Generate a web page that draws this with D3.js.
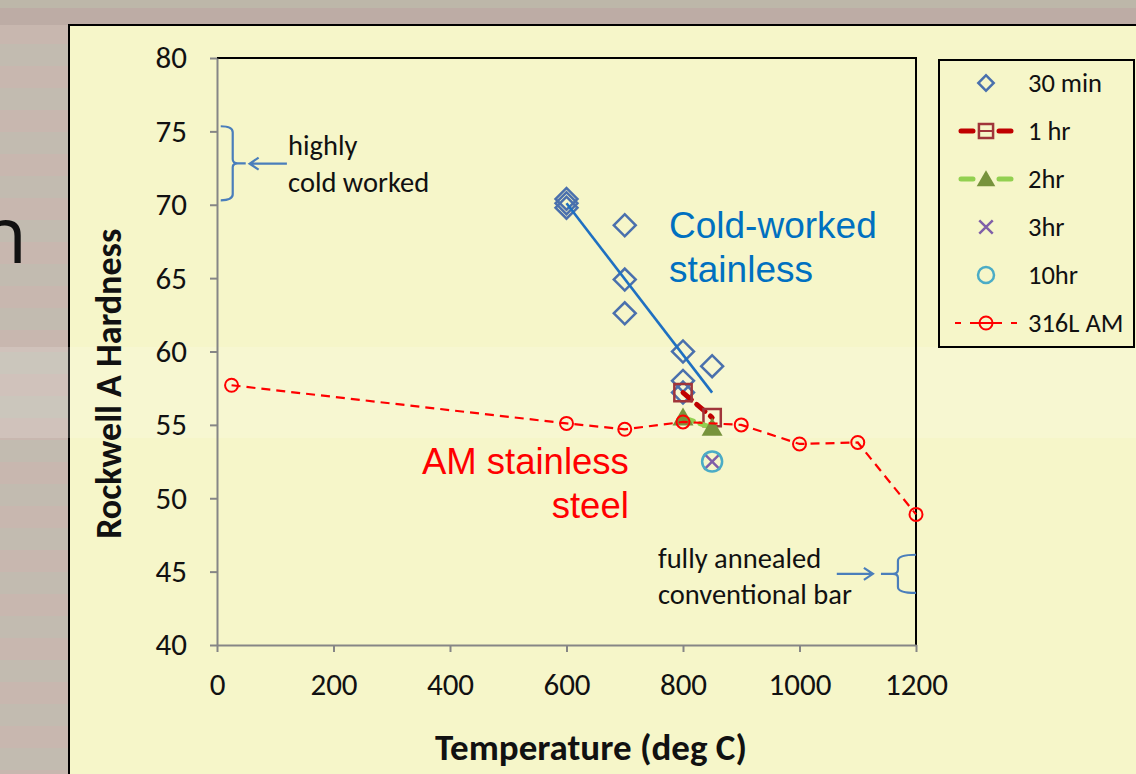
<!DOCTYPE html>
<html lang="en">
<head>
<meta charset="utf-8">
<script src="https://d3js.org/d3.v7.min.js"></script>
<style>
body { margin: 0; overflow: hidden; background: #c1b8ad; }
svg { display: block; font-family: Carlito, Calibri, Lato, sans-serif; }
</style>
</head>
<body>
<svg width="1136" height="774"></svg>
<script>

// hardness (Rockwell A) vs anneal temperature
var min30Temp = [600, 600, 600, 700, 700, 700, 800, 800, 800, 850];
var min30Hard = [70.4, 70.1, 69.8, 68.6, 64.9, 62.6, 60.0, 58.0, 57.2, 59.0];
var hr1Temp = [800, 850];
var hr1Hard = [57.2, 55.5];
var hr2Temp = [800, 850];
var hr2Hard = [55.5, 54.8];
var hr3Temp = [850];
var hr3Hard = [52.5];
var hr10Temp = [850];
var hr10Hard = [52.5];
var amTemp = [25, 600, 700, 800, 900, 1000, 1100, 1200];
var amHard = [57.7, 55.1, 54.7, 55.2, 55.0, 53.7, 53.8, 48.9];
var trendTemp = [600, 850];
var trendHard = [70.1, 57.2];

var xTicks = [0, 200, 400, 600, 800, 1000, 1200];
var yTicks = [40, 45, 50, 55, 60, 65, 70, 75, 80];
var legendLabels = ["30 min", "1 hr", "2hr", "3hr", "10hr", "316L AM"];
var legendTypes = ["diamond", "square", "triangle", "cross", "circle10", "circleAM"];

var svg = d3.select("svg"),
    width = +svg.attr("width"),
    height = +svg.attr("height");

var x = d3.scaleLinear().domain([0, 1200]).range([217, 916]);
var y = d3.scaleLinear().domain([40, 80]).range([645, 58]);

var pts = function(t, h) { return d3.zip(t, h); };

// slide background behind the chart
var defs = svg.append("defs");
var pat = defs.append("pattern").attr("id", "stripes")
    .attr("patternUnits", "userSpaceOnUse").attr("width", 80).attr("height", 44);
pat.append("rect").attr("width", 80).attr("height", 22).attr("fill", "#c2bbb0");
pat.append("rect").attr("y", 22).attr("width", 80).attr("height", 22).attr("fill", "#c8b7af");

svg.append("rect").attr("width", width).attr("height", height).attr("fill", "url(#stripes)");
svg.append("rect").attr("width", width).attr("height", 8).attr("fill", "#bdb7a9");
svg.append("rect").attr("y", 8).attr("width", width).attr("height", 17).attr("fill", "#bdaca5");

// tail of the slide's own text, cut by the window edge
svg.append("text")
    .attr("x", 27).attr("y", 263)
    .attr("text-anchor", "end")
    .style("font-family", "'Open Sans', sans-serif")
    .style("font-size", "78px")
    .attr("fill", "#111")
    .text("n");

// chart area
svg.append("rect")
    .attr("x", 69).attr("y", 25)
    .attr("width", width).attr("height", height)
    .attr("fill", "#f6f6c9")
    .attr("stroke", "#000").attr("stroke-width", 2);

// lighter band from the slide
svg.append("rect")
    .attr("x", 0).attr("y", 347)
    .attr("width", width).attr("height", 91)
    .attr("fill", "#fff").attr("opacity", 0.16);

// plot frame (top + right)
svg.append("path")
    .attr("d", "M" + x(0) + "," + y(80) + "H" + x(1200) + "V" + y(40))
    .attr("fill", "none").attr("stroke", "#000").attr("stroke-width", 2);

// axes
var yAxis = svg.append("g")
    .attr("transform", "translate(" + x(0) + ",0)")
    .call(d3.axisLeft(y).tickValues(yTicks).tickSize(7).tickSizeOuter(0).tickPadding(23));
var xAxis = svg.append("g")
    .attr("transform", "translate(0," + y(40) + ")")
    .call(d3.axisBottom(x).tickValues(xTicks).tickFormat(d3.format("d"))
      .tickSize(7).tickSizeOuter(0).tickPadding(21));

[xAxis, yAxis].forEach(function(a) {
  a.select(".domain").attr("stroke", "#868686").attr("stroke-width", 2);
  a.selectAll(".tick line").attr("stroke", "#868686").attr("stroke-width", 2);
  a.selectAll(".tick text")
      .attr("fill", "#111")
      .style("font-family", "Carlito, Calibri, Lato, sans-serif")
      .style("font-size", "31px");
});

svg.append("text")
    .attr("transform", "translate(" + 121 + "," + y(57.8) + ") rotate(-90)")
    .attr("text-anchor", "middle")
    .style("font-weight", "bold").style("font-size", "36px")
    .attr("fill", "#111")
    .text("Rockwell A Hardness");

svg.append("text")
    .attr("x", x(642)).attr("y", 760)
    .attr("text-anchor", "middle")
    .style("font-weight", "bold").style("font-size", "37px")
    .attr("fill", "#111")
    .text("Temperature (deg C)");

// markers
function marker(g, type, big) {
  var k = big ? 1 : 0.7;
  if (type == "diamond") {
    g.append("path")
        .attr("d", d3.symbol().type(d3.symbolSquare).size(240 * k * k))
        .attr("transform", "rotate(45)")
        .attr("fill", "none").attr("stroke", "#4a70ad").attr("stroke-width", 2.5);
  } else if (type == "square") {
    g.append("path")
        .attr("d", d3.symbol().type(d3.symbolSquare).size(big ? 300 : 200))
        .attr("fill", "none").attr("stroke", "#a0353a").attr("stroke-width", 2.5);
  } else if (type == "triangle") {
    g.append("path")
        .attr("d", d3.symbol().type(d3.symbolTriangle).size(big ? 190 : 150))
        .attr("transform", "translate(0,2)")
        .attr("fill", "#77933c");
  } else if (type == "cross") {
    g.append("path")
        .attr("d", d3.symbol().type(d3.symbolX).size(big ? 170 : 120))
        .attr("fill", "none").attr("stroke", "#7f5fa8").attr("stroke-width", 2.5);
  } else if (type == "circle10") {
    g.append("circle").attr("r", big ? 10 : 8)
        .attr("fill", "none").attr("stroke", "#4bacc6").attr("stroke-width", 2.5);
  } else if (type == "circleAM") {
    g.append("circle").attr("r", 6.5)
        .attr("fill", "none").attr("stroke", "#ff0000").attr("stroke-width", 2);
  }
}

var line = d3.line()
    .x(function(d) { return x(d[0]); })
    .y(function(d) { return y(d[1]); });

function series(data, type) {
  svg.append("g").selectAll("g")
    .data(data)
    .enter().append("g")
      .attr("transform", function(d) { return "translate(" + x(d[0]) + "," + y(d[1]) + ")"; })
      .each(function() { marker(d3.select(this), type, true); });
}

series(pts(min30Temp, min30Hard), "diamond");

svg.append("path").datum(pts(hr1Temp, hr1Hard)).attr("d", line)
    .attr("fill", "none").attr("stroke", "#c00000").attr("stroke-width", 5)
    .attr("stroke-dasharray", "11,7").attr("stroke-linecap", "round");
series(pts(hr1Temp, hr1Hard), "square");

svg.append("path").datum(pts(hr2Temp, hr2Hard)).attr("d", line)
    .attr("fill", "none").attr("stroke", "#92d050").attr("stroke-width", 5)
    .attr("stroke-dasharray", "11,7").attr("stroke-linecap", "round");
series(pts(hr2Temp, hr2Hard), "triangle");

series(pts(hr3Temp, hr3Hard), "cross");
series(pts(hr10Temp, hr10Hard), "circle10");

svg.append("path").datum(pts(amTemp, amHard)).attr("d", line)
    .attr("fill", "none").attr("stroke", "#ff0000").attr("stroke-width", 2.2)
    .attr("stroke-dasharray", "9,6");
series(pts(amTemp, amHard), "circleAM");

// linear trend of the 30 min points
svg.append("path").datum(pts(trendTemp, trendHard)).attr("d", line)
    .attr("fill", "none").attr("stroke", "#1f70c1").attr("stroke-width", 2.6);

// annotations: brace + arrow + note
function brace(t, h0, h1, hook, notch) {
  var bx = x(t), yt = y(h1), yb = y(h0), ym = (yt + yb) / 2;
  var s = hook < 0 ? -1 : 1, n = -s;
  return "M" + (bx + hook) + "," + yt +
    "Q" + bx + "," + yt + " " + bx + "," + (yt + 6) +
    "V" + (ym - 4) +
    "Q" + bx + "," + ym + " " + (bx + n * 5) + "," + ym +
    "H" + (bx + n * notch) +
    "M" + (bx + n * 5) + "," + ym +
    "Q" + bx + "," + ym + " " + bx + "," + (ym + 4) +
    "V" + (yb - 6) +
    "Q" + bx + "," + yb + " " + (bx + hook) + "," + yb;
}

function arrow(t0, t1, h) {
  var x0 = x(t0), x1 = x(t1), yy = y(h), d = x1 > x0 ? -1 : 1;
  return "M" + x0 + "," + yy + "H" + x1 +
    "M" + (x1 + d * 9) + "," + (yy - 6) + "L" + x1 + "," + yy + "L" + (x1 + d * 9) + "," + (yy + 6);
}

var annot = svg.append("g")
    .attr("fill", "none").attr("stroke", "#4a7ebb").attr("stroke-width", 2.2);
annot.append("path").attr("d", brace(27, 70.3, 75.35, -12, 13));
annot.append("path").attr("d", arrow(120, 56, 72.8));
annot.append("path").attr("d", brace(1169, 43.55, 46.15, 18, 17));
annot.append("path").attr("d", arrow(1064, 1126, 44.85));

function note(lines, t, h, step, anchor, size, color, family) {
  svg.append("g").selectAll("text")
    .data(lines)
    .enter().append("text")
      .attr("x", x(t))
      .attr("y", function(d, i) { return y(h) + i * step; })
      .attr("text-anchor", anchor)
      .attr("fill", color)
      .style("font-size", size)
      .style("font-family", family)
      .text(function(d) { return d; });
}

var calibri = "Carlito, Calibri, Lato, sans-serif";
var arial = "'Liberation Sans', Arial, sans-serif";
note(["highly", "cold worked"], 122, 73.4, 37, "start", "28.5px", "#111", calibri);
note(["fully annealed", "conventional bar"], 757, 45.25, 36, "start", "28.5px", "#111", calibri);
note(["Cold-worked", "stainless"], 776, 67.75, 44, "start", "37px", "#0070c0", arial);
note(["AM stainless", "steel"], 707, 51.65, 44, "end", "36.5px", "#ff0000", arial);

// legend
var legend = svg.append("g");
legend.append("rect")
    .attr("x", 939).attr("y", 60).attr("width", 195).attr("height", 287)
    .attr("fill", "#f6f6c9").attr("stroke", "#000").attr("stroke-width", 2);

var ly = d3.scaleLinear().domain([0, 5]).range([83, 323]);
var item = legend.selectAll("g.item")
    .data(legendLabels)
    .enter().append("g")
      .attr("class", "item")
      .attr("transform", function(d, i) { return "translate(986," + ly(i) + ")"; });

item.each(function(d, i) {
  var g = d3.select(this), t = legendTypes[i];
  if (t == "square" || t == "triangle") {
    g.append("path").attr("d", "M-25,0H-13M13,0H25")
        .attr("stroke", t == "square" ? "#c00000" : "#92d050")
        .attr("stroke-width", 5).attr("stroke-linecap", "round");
  }
  if (t == "circleAM") {
    g.append("path").attr("d", "M-31,0H-25M-16,0H16M25,0H31")
        .attr("stroke", "#ff0000").attr("stroke-width", 2);
  }
  marker(g, t, false);
  if (t == "square") {
    g.append("path").attr("d", "M-7,0H7").attr("stroke", "#a0353a").attr("stroke-width", 2);
  }
  g.append("text")
      .attr("x", 42).attr("dy", "0.35em")
      .attr("fill", "#111")
      .style("font-size", "26.5px")
      .text(d);
});

</script>
</body>
</html>
